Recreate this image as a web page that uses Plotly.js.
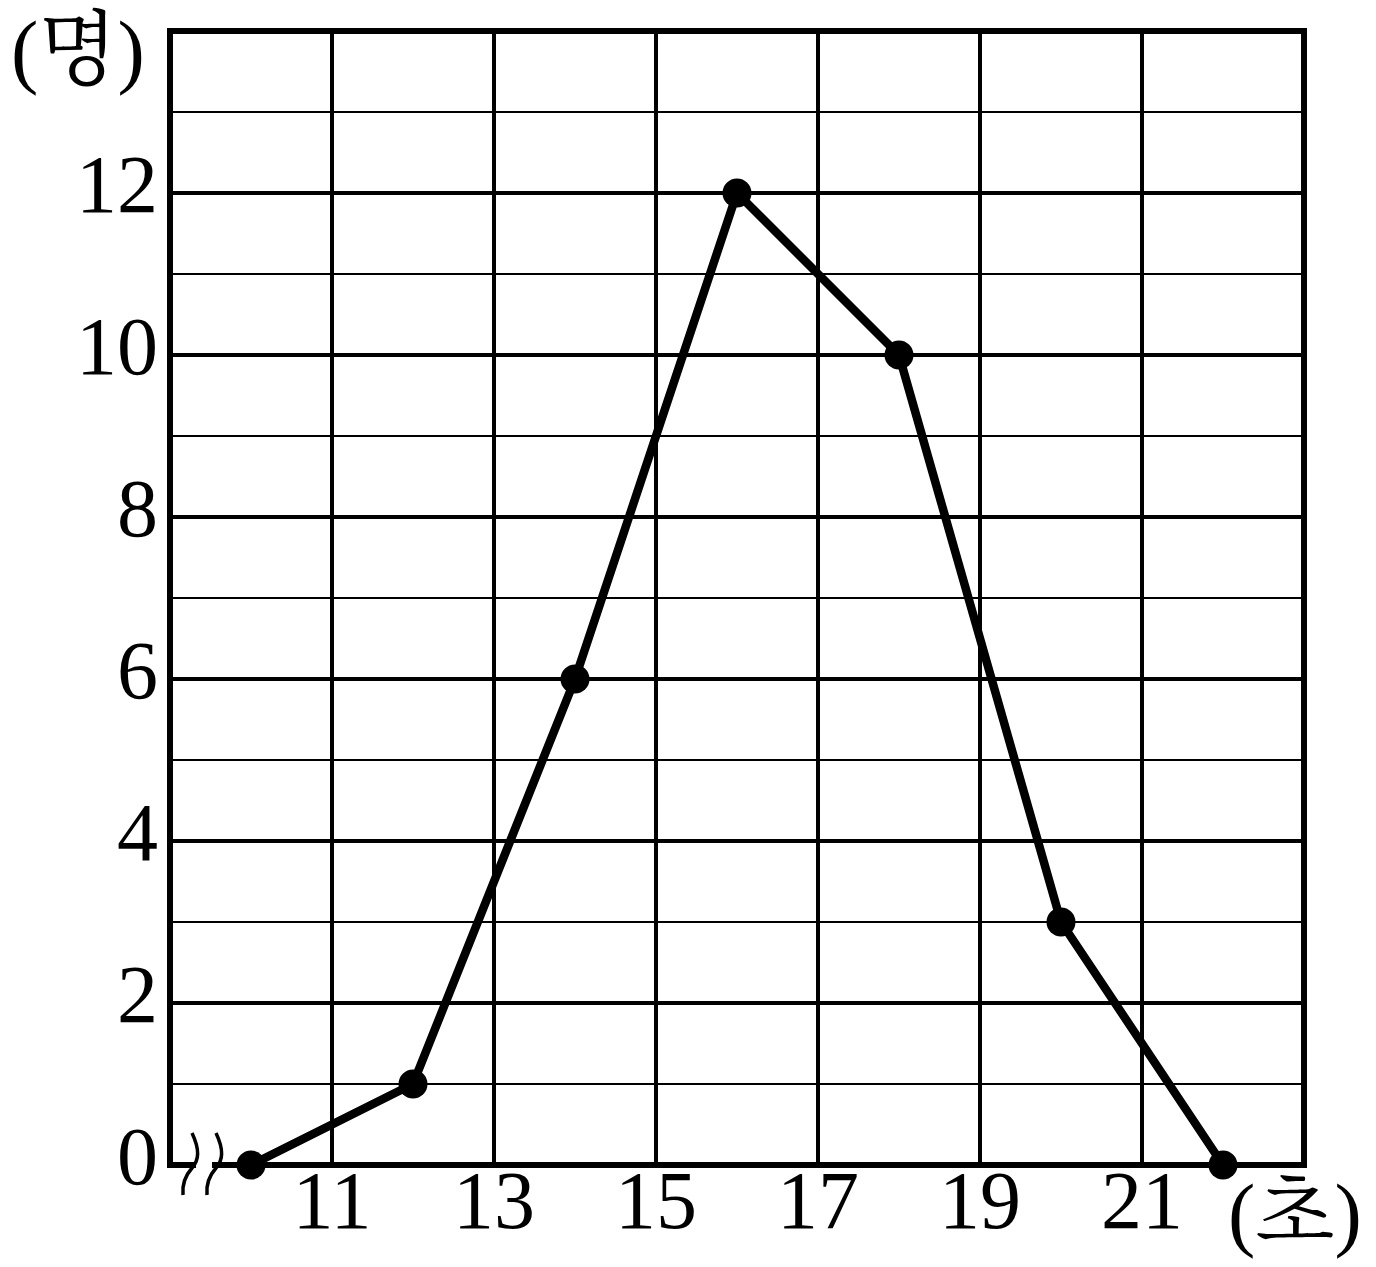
<!DOCTYPE html>
<html>
<head>
<meta charset="utf-8">
<script src="https://cdn.plot.ly/plotly-3.0.1.min.js"></script>
<style>html,body{margin:0;padding:0;background:#fff;}#chart{width:1376px;height:1267px;}</style>
</head>
<body>
<div id="chart"></div>
<script>
// Data
const classMarks = [10, 12, 14, 16, 18, 20, 22];
const counts = [0, 1, 6, 12, 10, 3, 0];
const xTickVals = [11, 13, 15, 17, 19, 21];
const xTickText = ['11', '13', '15', '17', '19', '21'];
const yTickVals = [0, 2, 4, 6, 8, 10, 12];
const yTickText = ['0', '2', '4', '6', '8', '10', '12'];
const yMinorVals = [1, 3, 5, 7, 9, 11, 13];
const xMin = 9, xMax = 23, yMin = 0, yMax = 14;
const yUnit = '(명)';
const xUnit = '(초)';

const W = 1376, H = 1267;
const L = 167, R = 69, T = 28, B = 99;
const pw = W - L - R, ph = H - T - B;
// pixel -> paper helpers (decoration only)
function px(x) { return ((x - L) / pw).toFixed(5); }
function py(y) { return ((H - B - y) / ph).toFixed(5); }
function strokePath(dx) {
  const p = (x, y) => px(x + dx) + ',' + py(y);
  return 'M' + p(192, 1133) + ' C' + p(200, 1150) + ' ' + p(199, 1160) + ' ' + p(192, 1168) +
         ' C' + p(184, 1177) + ' ' + p(182, 1185) + ' ' + p(183, 1195);
}

const serif = "'Liberation Serif', 'Noto Serif CJK KR', 'Noto Sans CJK KR', serif";
const off = 3 / 81;

const trace = {
  x: classMarks,
  y: counts,
  type: 'scatter',
  mode: 'lines+markers',
  line: { color: '#000', width: 8.5 },
  marker: { color: '#000', size: 29 },
  cliponaxis: false,
  hoverinfo: 'skip'
};

const layout = {
  width: W, height: H,
  margin: { l: L, r: R, t: T, b: B, pad: 0 },
  paper_bgcolor: '#fff', plot_bgcolor: '#fff',
  showlegend: false,
  font: { family: serif, color: '#000', size: 60 },
  xaxis: {
    range: [xMin - off, xMax + off],
    tickmode: 'array', tickvals: xTickVals, ticktext: xTickText,
    showgrid: true, gridcolor: '#000', gridwidth: 3.5,
    zeroline: false, showline: false,
    ticks: '', tickfont: { family: serif, size: 82, color: '#000' },
    ticklabelstandoff: -23,
    fixedrange: true
  },
  yaxis: {
    range: [yMin - off, yMax + off],
    tickmode: 'array', tickvals: yTickVals, ticktext: yTickText,
    showgrid: true, gridcolor: '#000', gridwidth: 3.5,
    minor: { tickmode: 'array', tickvals: yMinorVals, showgrid: true, gridcolor: '#000', gridwidth: 2, ticks: '' },
    zeroline: false, showline: false,
    ticks: '', tickfont: { family: serif, size: 82, color: '#000' },
    ticklabelstandoff: 8,
    ticklabelshift: -10,
    fixedrange: true
  },
  annotations: [
    { text: yUnit, xref: 'paper', yref: 'paper', x: px(78), y: py(50), xanchor: 'center', yanchor: 'middle',
      showarrow: false, font: { family: serif, size: 82, color: '#000' } },
    { text: xUnit, xref: 'paper', yref: 'paper', x: px(1295), y: py(1214), xanchor: 'center', yanchor: 'middle',
      showarrow: false, font: { family: serif, size: 82, color: '#000' } }
  ],
  shapes: [
    { type: 'rect', xref: 'x', yref: 'y', x0: xMin, x1: xMax, y0: yMin, y1: yMax,
      fillcolor: 'rgba(0,0,0,0)', line: { color: '#000', width: 6 }, layer: 'above' },
    { type: 'rect', xref: 'paper', yref: 'paper', x0: px(196), x1: px(212), y0: py(1158), y1: py(1172),
      fillcolor: '#fff', line: { width: 0 }, layer: 'above' },
    { type: 'path', xref: 'paper', yref: 'paper', path: strokePath(0), line: { color: '#000', width: 3.5 }, layer: 'above' },
    { type: 'path', xref: 'paper', yref: 'paper', path: strokePath(24), line: { color: '#000', width: 3.5 }, layer: 'above' }
  ]
};

Plotly.newPlot('chart', [trace], layout, { displayModeBar: false, staticPlot: true });
</script>
</body>
</html>
